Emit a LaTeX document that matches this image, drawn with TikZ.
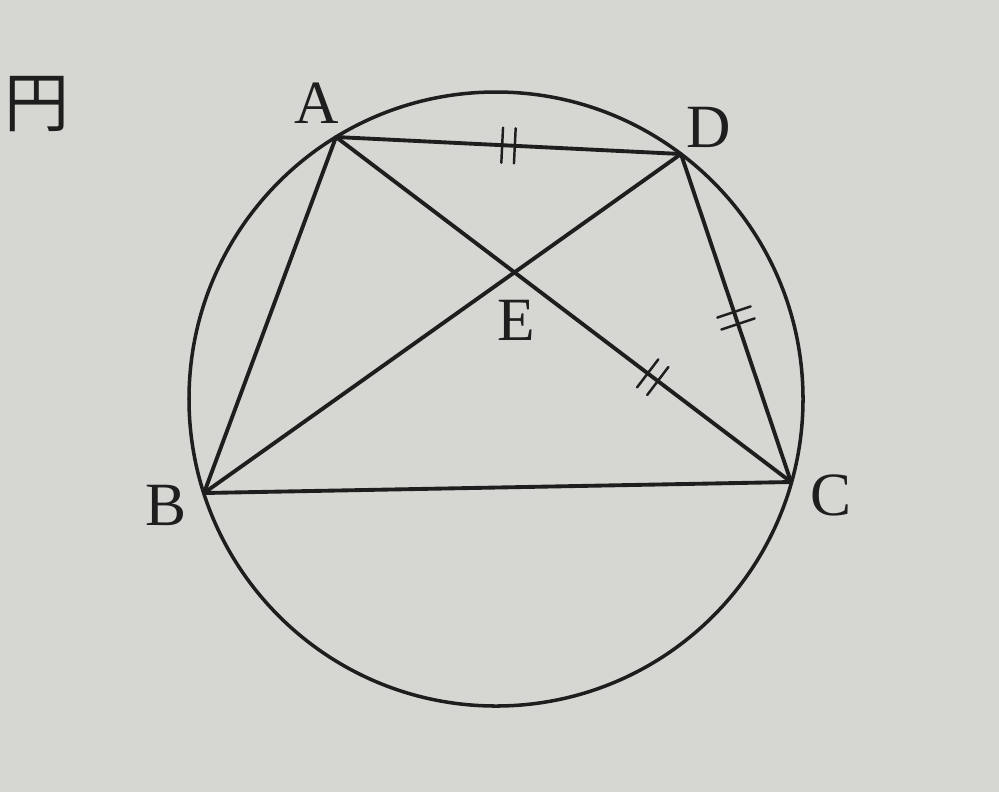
\documentclass[tikz,border=0pt]{standalone}
\usepackage{fontspec}
\setmainfont{Liberation Serif}
\newfontfamily\jpfont{Noto Sans CJK JP}
\usetikzlibrary{decorations.markings}
\definecolor{paper}{HTML}{D6D6D3}
\definecolor{ink}{HTML}{1E1E1E}
\tikzset{
  seg/.style={line width=2.2pt, draw=ink, line cap=round},
  eqmark/.style={postaction={decorate, decoration={markings,
      mark=at position 0.5 with {\draw[line width=1.4pt, ink] (-3.6pt,-10pt) -- (-3.6pt,10pt) (3.6pt,-10pt) -- (3.6pt,10pt);}}}},
  lbl/.style={font=\fontsize{35}{40}\selectfont, text=ink, inner sep=0pt}
}
\begin{document}
\begin{tikzpicture}[x=0.02cm, y=-0.02cm]
         \fill[paper] (0,0) rectangle (999,792);
         \useasboundingbox (0,0) rectangle (999,792);
         %points
         \coordinate (O) at (496,399);
         \coordinate (A) at (336,137);
         \coordinate (D) at (681,154);
         \coordinate (B) at (204,493);
         \coordinate (C) at (791,482);
         \coordinate (E) at (intersection of A--C and B--D);
         % circle and segments
         \draw[seg, line width=2pt] (O) circle [radius=307];
         \draw[seg] (B) -- (C);
         \draw[seg] (A) -- (B);
         \draw[seg] (B) -- (D);
         \draw[seg] (A) -- (E);
         \draw[seg, eqmark] (E) -- (C);
         \draw[seg, eqmark] (A) -- (D);
         \draw[seg, eqmark] (D) -- (C);
         %labels
         \node[lbl] at (317,103) (labA) {A};
         \node[lbl] at (709,127) (labD) {D};
         \node[lbl] at (166,505) (labB) {B};
         \node[lbl] at (831,495) (labC) {C};
         \node[lbl] at (516,320) (labE) {E};
         \node[lbl, font=\jpfont\fontsize{37}{40}\selectfont] at (37,104) (title) {円};
\end{tikzpicture}
\end{document}
